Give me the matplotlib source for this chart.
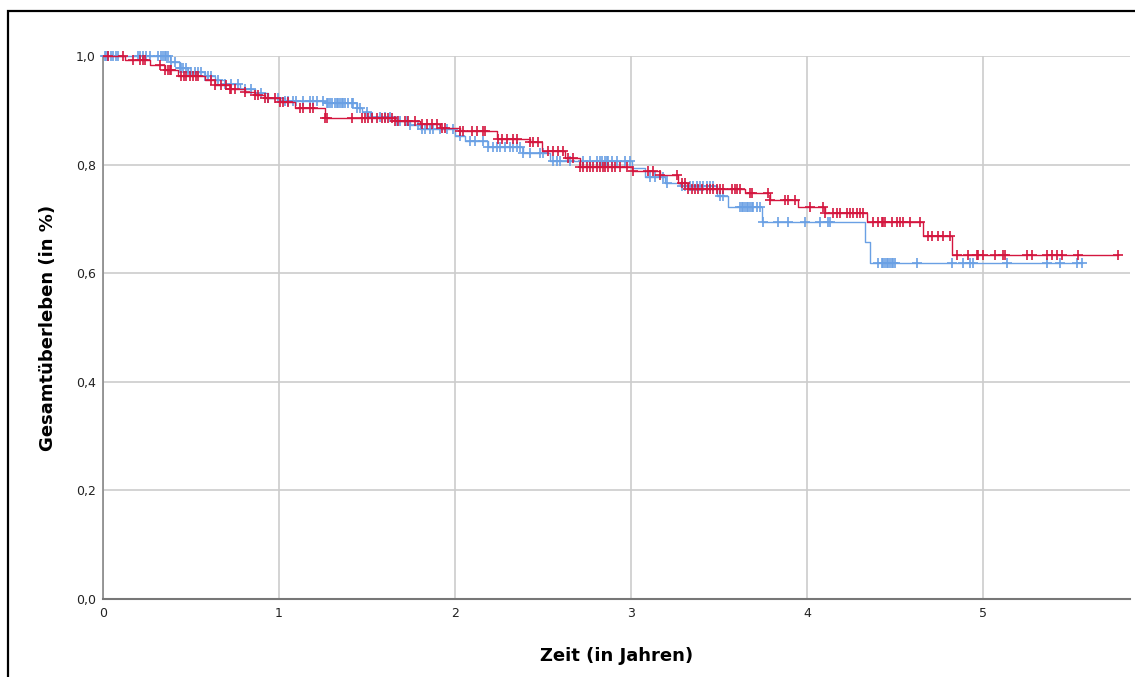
import numpy as np
import matplotlib
matplotlib.use("Agg")
import matplotlib.pyplot as plt
from matplotlib.patches import Rectangle
from matplotlib.ticker import FuncFormatter

# Kaplan-Meier estimates (time in years, survival after each event)
red_times = [0.125, 0.267, 0.352, 0.426, 0.580, 0.636, 0.722, 0.807, 0.864, 0.920,
             1.006, 1.091, 1.261, 1.659, 1.801, 1.915, 2.028, 2.239, 2.426, 2.494,
             2.625, 2.710, 3.006, 3.165, 3.267, 3.324, 3.648, 3.790, 3.949, 4.102,
             4.341, 4.659, 4.824]
red_surv = [0.993, 0.983, 0.975, 0.963, 0.955, 0.946, 0.940, 0.934, 0.928, 0.922,
            0.915, 0.905, 0.886, 0.881, 0.875, 0.867, 0.861, 0.848, 0.841, 0.825,
            0.812, 0.796, 0.789, 0.781, 0.766, 0.755, 0.748, 0.735, 0.722, 0.711,
            0.694, 0.668, 0.634]
red_censored = [0.028, 0.114, 0.170, 0.210, 0.227, 0.239, 0.324, 0.352, 0.369, 0.381,
                0.386, 0.443, 0.460, 0.472, 0.494, 0.511, 0.528, 0.540, 0.614, 0.636,
                0.670, 0.699, 0.722, 0.727, 0.750, 0.807, 0.864, 0.881, 0.920, 0.938,
                0.977, 1.006, 1.023, 1.051, 1.119, 1.136, 1.176, 1.193, 1.261, 1.273,
                1.415, 1.472, 1.489, 1.506, 1.528, 1.557, 1.585, 1.602, 1.619, 1.642,
                1.659, 1.676, 1.716, 1.733, 1.773, 1.813, 1.841, 1.869, 1.898, 1.926,
                1.943, 2.028, 2.045, 2.097, 2.125, 2.159, 2.170, 2.244, 2.267, 2.295,
                2.330, 2.352, 2.426, 2.443, 2.472, 2.528, 2.557, 2.585, 2.614, 2.642,
                2.670, 2.710, 2.727, 2.750, 2.767, 2.784, 2.807, 2.824, 2.841, 2.852,
                2.869, 2.892, 2.909, 2.938, 2.977, 3.011, 3.097, 3.125, 3.165, 3.261,
                3.290, 3.307, 3.324, 3.347, 3.364, 3.381, 3.403, 3.432, 3.449, 3.466,
                3.489, 3.506, 3.523, 3.574, 3.591, 3.602, 3.619, 3.676, 3.688, 3.778,
                3.790, 3.875, 3.892, 3.932, 4.017, 4.091, 4.102, 4.148, 4.170, 4.188,
                4.227, 4.244, 4.261, 4.284, 4.301, 4.318, 4.375, 4.403, 4.426, 4.432,
                4.443, 4.483, 4.511, 4.528, 4.545, 4.585, 4.642, 4.688, 4.710, 4.744,
                4.773, 4.812, 4.852, 4.915, 4.966, 4.972, 5.000, 5.068, 5.114, 5.125,
                5.250, 5.278, 5.364, 5.392, 5.420, 5.449, 5.540, 5.767]

blue_times = [0.381, 0.438, 0.483, 0.580, 0.636, 0.693, 0.778, 0.864, 0.938, 1.034,
              1.261, 1.443, 1.472, 1.517, 1.659, 1.744, 1.801, 2.000, 2.057, 2.188,
              2.386, 2.540, 3.006, 3.080, 3.193, 3.278, 3.489, 3.551, 3.744, 4.330,
              4.358]
blue_surv = [0.989, 0.978, 0.970, 0.963, 0.955, 0.948, 0.940, 0.932, 0.922, 0.917,
             0.913, 0.905, 0.897, 0.888, 0.881, 0.873, 0.865, 0.852, 0.843, 0.832,
             0.822, 0.807, 0.793, 0.777, 0.766, 0.760, 0.742, 0.722, 0.695, 0.657,
             0.619]
blue_censored = [0.010, 0.020, 0.028, 0.045, 0.057, 0.074, 0.085, 0.199, 0.210, 0.227,
                 0.244, 0.267, 0.313, 0.330, 0.341, 0.352, 0.358, 0.369, 0.386, 0.409,
                 0.438, 0.443, 0.455, 0.472, 0.483, 0.500, 0.523, 0.540, 0.557, 0.580,
                 0.597, 0.614, 0.653, 0.693, 0.727, 0.767, 0.807, 0.841, 0.898, 0.938,
                 0.994, 1.034, 1.051, 1.080, 1.097, 1.136, 1.176, 1.193, 1.216, 1.250,
                 1.273, 1.278, 1.290, 1.301, 1.318, 1.330, 1.335, 1.347, 1.358, 1.364,
                 1.375, 1.392, 1.415, 1.420, 1.443, 1.460, 1.500, 1.528, 1.574, 1.602,
                 1.631, 1.670, 1.688, 1.727, 1.744, 1.790, 1.813, 1.830, 1.858, 1.875,
                 1.915, 1.955, 1.989, 2.028, 2.085, 2.114, 2.159, 2.188, 2.216, 2.239,
                 2.256, 2.284, 2.313, 2.330, 2.352, 2.369, 2.386, 2.426, 2.483, 2.500,
                 2.557, 2.580, 2.597, 2.653, 2.727, 2.767, 2.807, 2.824, 2.835, 2.852,
                 2.864, 2.869, 2.892, 2.920, 2.966, 2.995, 3.108, 3.136, 3.182, 3.205,
                 3.290, 3.307, 3.335, 3.352, 3.375, 3.392, 3.409, 3.432, 3.449, 3.466,
                 3.506, 3.523, 3.619, 3.631, 3.636, 3.648, 3.659, 3.665, 3.676, 3.688,
                 3.693, 3.716, 3.733, 3.750, 3.835, 3.892, 3.989, 4.074, 4.119, 4.131,
                 4.403, 4.426, 4.432, 4.443, 4.455, 4.460, 4.472, 4.483, 4.489, 4.500,
                 4.625, 4.824, 4.886, 4.926, 4.943, 5.136, 5.364, 5.438, 5.534, 5.560]

x_ticks = [0, 1, 2, 3, 4, 5]
y_ticks = [0.0, 0.2, 0.4, 0.6, 0.8, 1.0]

BLUE = "#6aa0e4"
RED = "#d4163f"


def surv_at(times, surv, t):
    times = np.asarray(times)
    s = np.concatenate([[1.0], surv])
    return s[np.searchsorted(times, t, side="right")]


def draw_km(ax, times, surv, censored, color, z):
    end = max(censored[-1], times[-1])
    xs = np.concatenate([[0.0], times, [end]])
    ys = np.concatenate([[1.0], surv, [surv[-1]]])
    ax.step(xs, ys, where="post", color=color, lw=1.0, zorder=z, clip_on=False)
    cy = surv_at(times, surv, np.asarray(censored))
    ax.plot(censored, cy, ls="none", marker="+", ms=6.5, mew=1.2, color=color,
            zorder=z, clip_on=False)


fig = plt.figure(figsize=(11.35, 6.77), dpi=100)
ax = fig.add_axes([0.0907, 0.1152, 0.9049, 0.8021])

draw_km(ax, blue_times, blue_surv, blue_censored, BLUE, 3)
draw_km(ax, red_times, red_surv, red_censored, RED, 4)

ax.set_xlim(0, 5.835)
ax.set_ylim(0, 1.0)
ax.set_xticks(x_ticks)
ax.set_yticks(y_ticks)
ax.yaxis.set_major_formatter(FuncFormatter(lambda v, _: f"{v:.1f}".replace(".", ",")))
ax.xaxis.set_major_formatter(FuncFormatter(lambda v, _: f"{v:g}"))
ax.tick_params(length=0, labelsize=9, colors="#222222", pad=6)
ax.tick_params(axis="y", pad=5)
ax.grid(True, color="#cccccc", lw=1.2)
ax.set_axisbelow(True)
for side in ("top", "right"):
    ax.spines[side].set_visible(False)
ax.spines["left"].set_color("#888888")
ax.spines["bottom"].set_color("#777777")
ax.spines["left"].set_linewidth(1.2)
ax.spines["bottom"].set_linewidth(1.5)

ax.set_xlabel("Zeit (in Jahren)", fontsize=13, fontweight="bold", labelpad=19)
ax.set_ylabel("Gesamtüberleben (in %)", fontsize=13, fontweight="bold", labelpad=14)

# black frame around the chart
fig.patches.append(Rectangle((8 / 1135, -0.1), 1.2, 1 - 11 / 677 + 0.1,
                             transform=fig.transFigure, fill=False,
                             edgecolor="black", lw=1.6, zorder=0))

fig.savefig("out.png", dpi=100)
